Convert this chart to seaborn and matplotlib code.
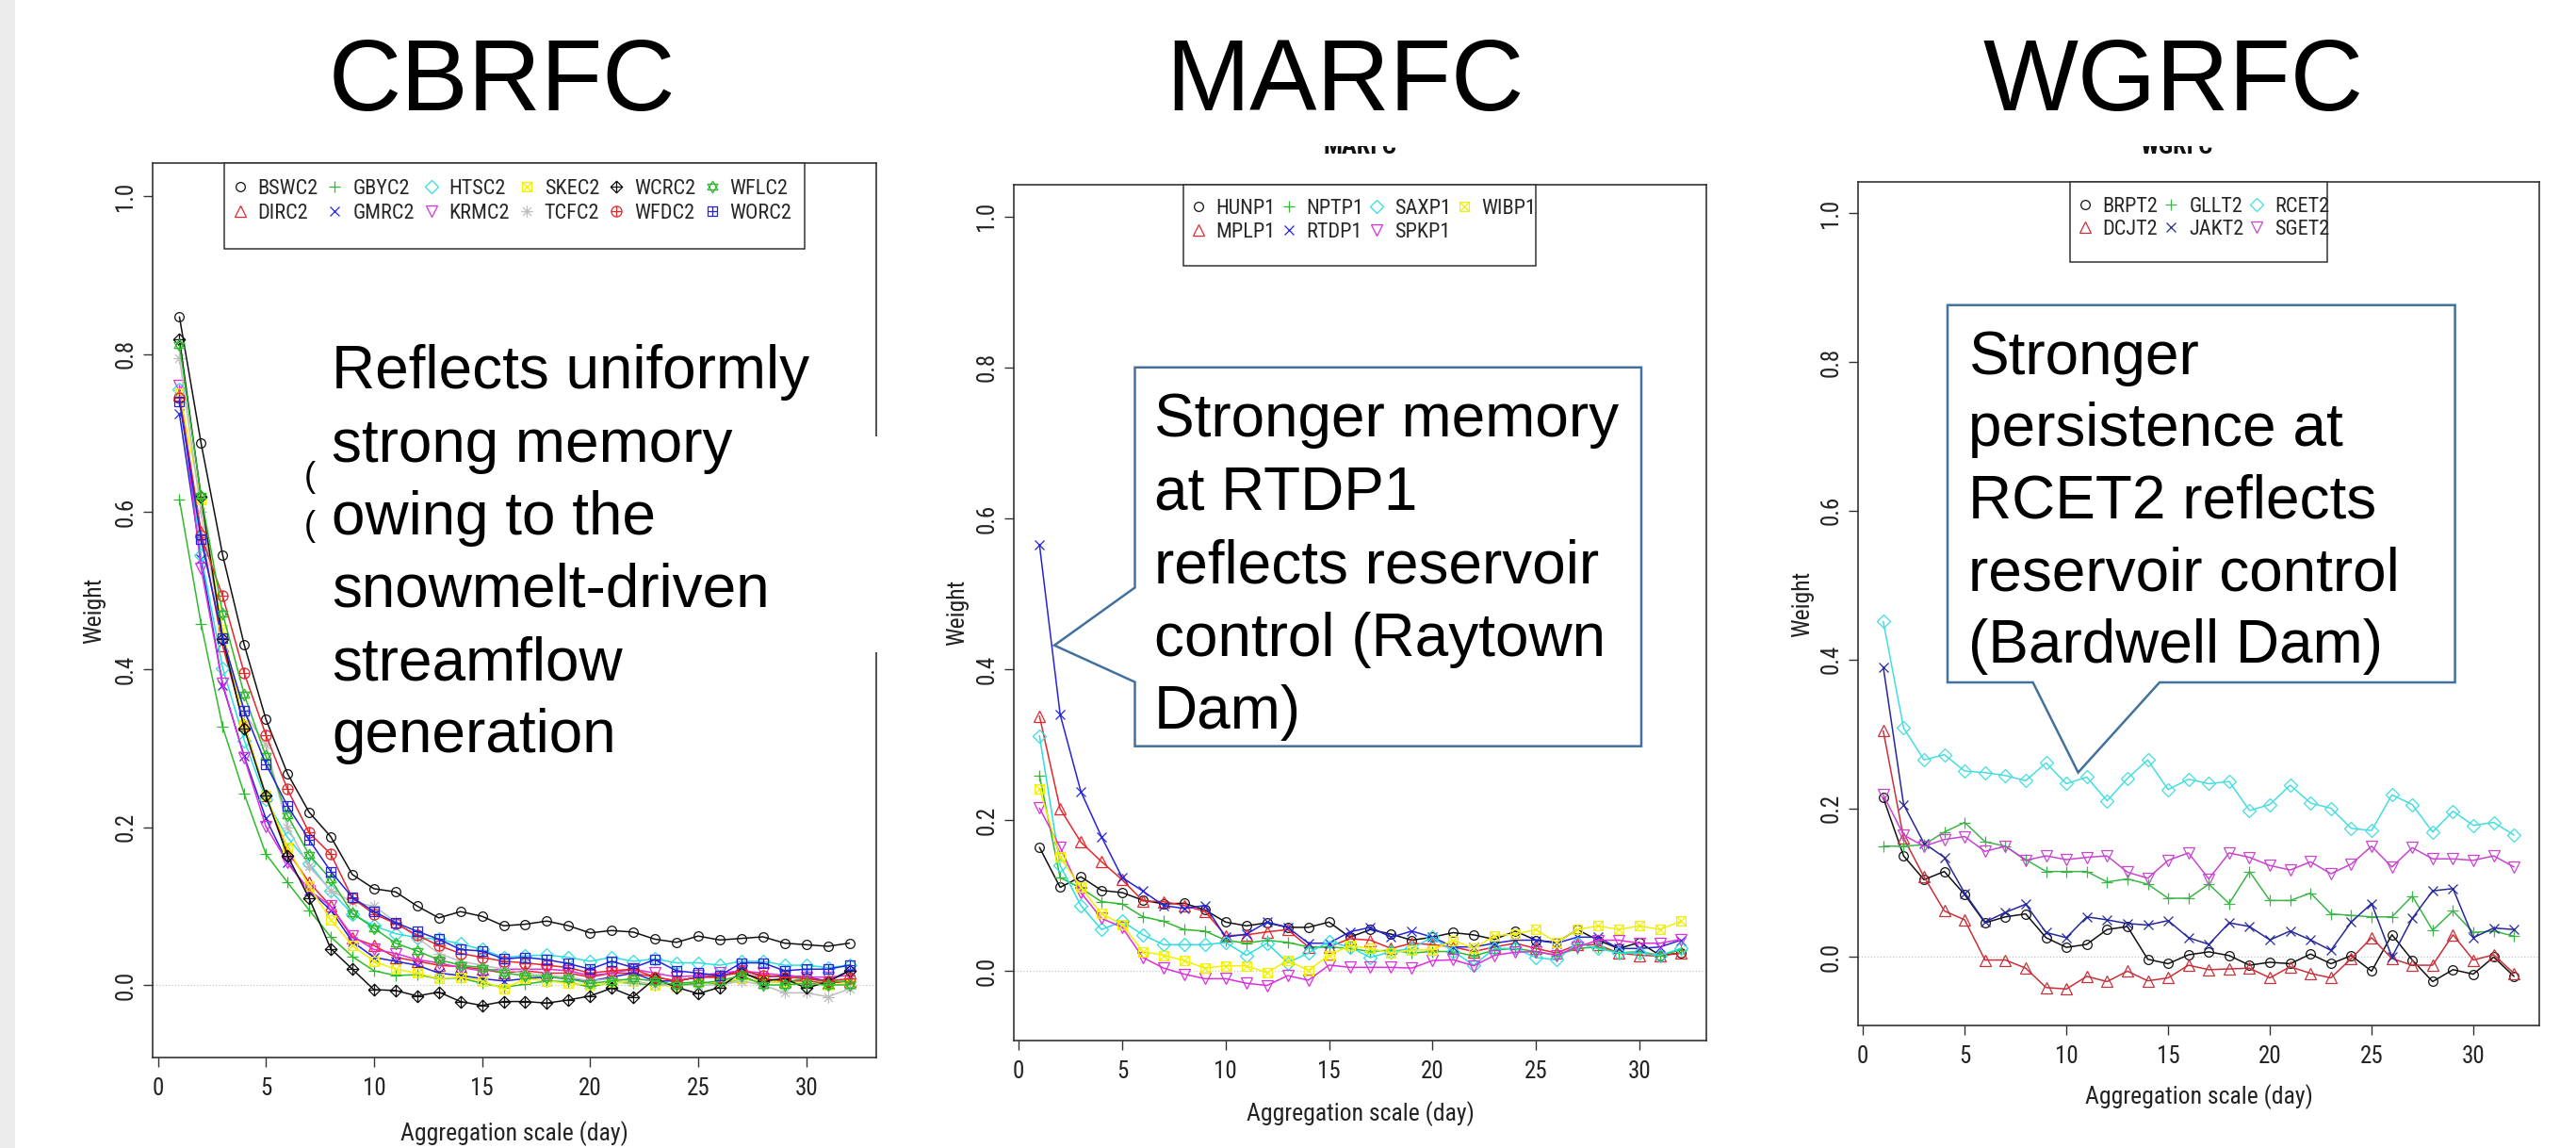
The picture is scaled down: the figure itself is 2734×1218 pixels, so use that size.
import matplotlib
matplotlib.use("Agg")
import matplotlib.pyplot as plt
import seaborn as sns
import numpy as np
from matplotlib.path import Path
from matplotlib.lines import Line2D
from matplotlib.patches import Rectangle, Polygon
from matplotlib import font_manager

# ---------------- data ----------------
scale = list(range(1, 33))

cb_names = ["BSWC2", "DIRC2", "GBYC2", "GMRC2", "HTSC2", "KRMC2",
            "SKEC2", "TCFC2", "WCRC2", "WFDC2", "WFLC2", "WORC2"]
bswc2 = [0.847, 0.687, 0.545, 0.431, 0.337, 0.268, 0.219, 0.188, 0.140, 0.122, 0.118, 0.100, 0.085, 0.093, 0.087, 0.075,
         0.077, 0.081, 0.075, 0.066, 0.069, 0.067, 0.058, 0.054, 0.062, 0.057, 0.059, 0.061, 0.053, 0.051, 0.049, 0.053]
dirc2 = [0.748, 0.575, 0.430, 0.330, 0.240, 0.170, 0.130, 0.100, 0.060, 0.050, 0.035, 0.030, 0.025, 0.023, 0.020, 0.015,
         0.018, 0.015, 0.015, 0.010, 0.015, 0.015, 0.010, 0.005, 0.010, 0.012, 0.015, 0.008, 0.005, 0.005, 0.002, 0.005]
gbyc2 = [0.615, 0.458, 0.327, 0.242, 0.166, 0.130, 0.095, 0.061, 0.036, 0.018, 0.012, 0.013, 0.008, 0.009, 0.002, -0.003,
         0.001, 0.005, 0.004, -0.003, 0.004, 0.002, 0.000, 0.002, 0.004, 0.001, 0.008, 0.004, 0.004, 0.008, 0.004, 0.005]
gmrc2 = [0.724, 0.540, 0.380, 0.290, 0.211, 0.155, 0.120, 0.095, 0.055, 0.035, 0.030, 0.025, 0.015, 0.012, 0.008, 0.005,
         0.008, 0.010, 0.008, 0.005, 0.010, 0.015, 0.005, 0.005, 0.010, 0.010, 0.020, 0.010, 0.012, 0.010, 0.005, 0.018]
htsc2 = [0.755, 0.545, 0.402, 0.310, 0.235, 0.187, 0.154, 0.119, 0.090, 0.075, 0.065, 0.060, 0.058, 0.052, 0.045, 0.035,
         0.037, 0.038, 0.035, 0.030, 0.035, 0.030, 0.033, 0.028, 0.028, 0.025, 0.030, 0.030, 0.025, 0.025, 0.022, 0.025]
krmc2 = [0.760, 0.528, 0.382, 0.288, 0.201, 0.155, 0.120, 0.100, 0.062, 0.045, 0.040, 0.032, 0.028, 0.022, 0.018, 0.020,
         0.020, 0.020, 0.018, 0.012, 0.015, 0.020, 0.015, 0.010, 0.012, 0.015, 0.018, 0.015, 0.012, 0.010, 0.010, 0.012]
skec2 = [0.750, 0.615, 0.450, 0.330, 0.240, 0.175, 0.125, 0.083, 0.050, 0.030, 0.020, 0.015, 0.008, 0.010, 0.005, -0.005,
         0.008, 0.005, 0.002, 0.000, 0.002, 0.005, 0.000, -0.002, 0.003, 0.003, 0.008, 0.005, 0.003, 0.002, 0.000, 0.002]
tcfc2 = [0.795, 0.600, 0.440, 0.345, 0.305, 0.200, 0.150, 0.120, 0.105, 0.100, 0.080, 0.060, 0.040, 0.030, 0.025, 0.020,
         0.015, 0.012, 0.010, 0.005, 0.008, 0.005, 0.000, 0.000, 0.000, 0.000, 0.005, 0.000, -0.010, -0.010, -0.015, -0.005]
wcrc2 = [0.819, 0.619, 0.439, 0.325, 0.240, 0.164, 0.110, 0.046, 0.020, -0.006, -0.007, -0.014, -0.009, -0.021, -0.026, -0.021,
         -0.021, -0.023, -0.019, -0.014, -0.004, -0.015, 0.008, -0.003, -0.011, -0.003, 0.016, 0.005, 0.008, -0.004, 0.004, 0.018]
wfdc2 = [0.745, 0.570, 0.493, 0.395, 0.317, 0.248, 0.193, 0.166, 0.110, 0.090, 0.078, 0.063, 0.050, 0.040, 0.035, 0.030,
         0.028, 0.025, 0.022, 0.015, 0.018, 0.020, 0.010, 0.005, 0.010, 0.010, 0.018, 0.012, 0.010, 0.008, 0.005, 0.008]
wflc2 = [0.811, 0.620, 0.471, 0.368, 0.290, 0.215, 0.165, 0.134, 0.091, 0.072, 0.053, 0.043, 0.032, 0.025, 0.022, 0.015,
         0.012, 0.010, 0.008, 0.002, 0.005, 0.008, 0.005, 0.000, 0.002, 0.005, 0.012, 0.000, 0.000, 0.002, 0.000, 0.000]
worc2 = [0.740, 0.565, 0.440, 0.348, 0.280, 0.227, 0.184, 0.144, 0.111, 0.093, 0.079, 0.068, 0.058, 0.045, 0.043, 0.033,
         0.035, 0.032, 0.027, 0.020, 0.030, 0.022, 0.032, 0.018, 0.015, 0.012, 0.028, 0.028, 0.018, 0.020, 0.020, 0.025]
cb_values = [bswc2, dirc2, gbyc2, gmrc2, htsc2, krmc2, skec2, tcfc2, wcrc2, wfdc2, wflc2, worc2]

ma_names = ["HUNP1", "MPLP1", "NPTP1", "RTDP1", "SAXP1", "SPKP1", "WIBP1"]
hunp1 = [0.164, 0.111, 0.125, 0.107, 0.104, 0.094, 0.089, 0.090, 0.081, 0.065, 0.060, 0.064, 0.058, 0.058, 0.065, 0.045,
         0.055, 0.049, 0.041, 0.045, 0.051, 0.048, 0.042, 0.053, 0.041, 0.038, 0.055, 0.041, 0.030, 0.038, 0.021, 0.024]
mplp1 = [0.338, 0.215, 0.171, 0.145, 0.121, 0.093, 0.092, 0.087, 0.079, 0.047, 0.048, 0.052, 0.055, 0.032, 0.032, 0.043,
         0.041, 0.030, 0.037, 0.035, 0.032, 0.026, 0.032, 0.037, 0.030, 0.024, 0.035, 0.035, 0.024, 0.021, 0.020, 0.024]
nptp1 = [0.259, 0.124, 0.110, 0.092, 0.089, 0.072, 0.066, 0.055, 0.053, 0.041, 0.037, 0.041, 0.038, 0.032, 0.032, 0.030,
         0.026, 0.028, 0.024, 0.026, 0.026, 0.020, 0.028, 0.030, 0.026, 0.021, 0.030, 0.032, 0.024, 0.026, 0.021, 0.028]
rtdp1 = [0.565, 0.340, 0.238, 0.178, 0.124, 0.106, 0.087, 0.083, 0.087, 0.045, 0.049, 0.065, 0.058, 0.037, 0.037, 0.052,
         0.058, 0.045, 0.053, 0.045, 0.032, 0.032, 0.037, 0.041, 0.041, 0.037, 0.045, 0.045, 0.030, 0.030, 0.032, 0.041]
saxp1 = [0.312, 0.140, 0.087, 0.055, 0.066, 0.048, 0.035, 0.035, 0.035, 0.038, 0.021, 0.037, 0.011, 0.024, 0.039, 0.032,
         0.018, 0.026, 0.030, 0.045, 0.026, 0.008, 0.030, 0.030, 0.018, 0.015, 0.037, 0.030, 0.024, 0.024, 0.021, 0.030]
spkp1 = [0.216, 0.164, 0.104, 0.070, 0.058, 0.018, 0.004, -0.004, -0.010, -0.010, -0.016, -0.019, -0.006, -0.012, 0.008, 0.005,
         0.005, 0.005, 0.004, 0.014, 0.015, 0.007, 0.021, 0.025, 0.026, 0.021, 0.032, 0.041, 0.041, 0.037, 0.037, 0.042]
wibp1 = [0.242, 0.151, 0.111, 0.076, 0.062, 0.026, 0.021, 0.014, 0.004, 0.007, 0.007, -0.002, 0.014, 0.001, 0.021, 0.034,
         0.030, 0.024, 0.028, 0.028, 0.041, 0.030, 0.047, 0.049, 0.055, 0.038, 0.055, 0.060, 0.055, 0.060, 0.055, 0.066]
ma_values = [hunp1, mplp1, nptp1, rtdp1, saxp1, spkp1, wibp1]

wg_names = ["BRPT2", "DCJT2", "GLLT2", "JAKT2", "RCET2", "SGET2"]
brpt2 = [0.214, 0.136, 0.104, 0.115, 0.084, 0.046, 0.054, 0.058, 0.026, 0.013, 0.017, 0.037, 0.041, -0.003, -0.009, 0.003,
         0.007, 0.002, -0.011, -0.007, -0.009, 0.004, -0.009, 0.002, -0.019, 0.030, -0.004, -0.033, -0.017, -0.023, 0.000, -0.026]
dcjt2 = [0.304, 0.160, 0.108, 0.062, 0.050, -0.004, -0.004, -0.015, -0.041, -0.043, -0.026, -0.033, -0.019, -0.032, -0.028, -0.011,
         -0.017, -0.016, -0.015, -0.028, -0.013, -0.022, -0.028, -0.002, 0.026, -0.002, -0.011, -0.011, 0.030, -0.004, 0.003, -0.022]
gllt2 = [0.149, 0.149, 0.151, 0.168, 0.181, 0.155, 0.149, 0.131, 0.115, 0.115, 0.115, 0.101, 0.105, 0.098, 0.079, 0.079,
         0.098, 0.072, 0.115, 0.076, 0.076, 0.086, 0.058, 0.056, 0.054, 0.054, 0.082, 0.036, 0.062, 0.033, 0.035, 0.028]
jakt2 = [0.390, 0.205, 0.153, 0.134, 0.086, 0.047, 0.060, 0.071, 0.033, 0.026, 0.054, 0.050, 0.045, 0.043, 0.049, 0.026,
         0.017, 0.046, 0.041, 0.023, 0.035, 0.023, 0.009, 0.047, 0.072, 0.000, 0.052, 0.089, 0.092, 0.026, 0.039, 0.037]
rcet2 = [0.451, 0.308, 0.265, 0.272, 0.250, 0.248, 0.244, 0.237, 0.261, 0.233, 0.242, 0.210, 0.240, 0.265, 0.225, 0.239,
         0.233, 0.236, 0.197, 0.205, 0.231, 0.207, 0.200, 0.173, 0.170, 0.218, 0.205, 0.168, 0.196, 0.177, 0.181, 0.164]
sget2 = [0.218, 0.164, 0.149, 0.158, 0.162, 0.142, 0.149, 0.130, 0.136, 0.131, 0.134, 0.136, 0.114, 0.106, 0.130, 0.140,
         0.105, 0.140, 0.134, 0.123, 0.117, 0.128, 0.112, 0.125, 0.149, 0.121, 0.147, 0.132, 0.132, 0.130, 0.136, 0.121]
wg_values = [brpt2, dcjt2, gllt2, jakt2, rcet2, sget2]

titles = ["CBRFC", "MARFC", "WGRFC"]
notes = [
    ["Reflects uniformly", "strong memory", "owing to the", "snowmelt-driven", "streamflow", "generation"],
    ["Stronger memory", "at RTDP1", "reflects reservoir", "control (Raytown", "Dam)"],
    ["Stronger", "persistence at", "RCET2 reflects", "reservoir control", "(Bardwell Dam)"],
]

# ---------------- styling ----------------
W, H, DPI = 2734, 1218, 100
sns.set_style("white")
avail = {f.name for f in font_manager.fontManager.ttflist}
narrow = next((n for n in ["Liberation Sans Narrow", "DejaVu Sans Condensed", "Roboto Condensed"]
               if n in avail), "Liberation Sans")
plt.rcParams["font.family"] = [narrow, "DejaVu Sans"]
SLIDE_FONT = ["Liberation Sans", "DejaVu Sans"]


def fx(x):
    return x / W


def fy(y):
    return 1 - y / H


def seg(a, b):
    return Path([a, b], [Path.MOVETO, Path.LINETO])


def poly(pts):
    return Path(pts + [pts[0]], [Path.MOVETO] + [Path.LINETO] * (len(pts) - 1) + [Path.CLOSEPOLY])


square = poly([(-1, -1), (1, -1), (1, 1), (-1, 1)])
xcross = [seg((-1, -1), (1, 1)), seg((-1, 1), (1, -1))]
pcross = [seg((-1, 0), (1, 0)), seg((0, -1), (0, 1))]
pch7 = Path.make_compound_path(square, *xcross)
pch8 = Path.make_compound_path(seg((-1, 0), (1, 0)), seg((0, -1), (0, 1)),
                               seg((-.72, -.72), (.72, .72)), seg((-.72, .72), (.72, -.72)))
pch9 = Path.make_compound_path(poly([(0, -1), (1, 0), (0, 1), (-1, 0)]), *pcross)
pch10 = Path.make_compound_path(Path.circle((0, 0), 1), *pcross)
pch11 = Path.make_compound_path(poly([(0, 1), (-.87, -.5), (.87, -.5)]),
                                poly([(0, -1), (-.87, .5), (.87, .5)]))
pch12 = Path.make_compound_path(square, *pcross)

markers = ["o", "^", "+", "x", "D", "v", pch7, pch8, pch9, pch10, pch11, pch12]
msizes = [7, 8, 9, 7, 7, 8, 7, 9, 9, 8, 9, 7]
pal_a = ["#111111", "#E8262B", "#2DBB2D", "#2424D8", "#2EDDE0", "#DD2EDD", "#F2F000", "#BDBDBD"]
pal_b = ["#111111", "#C8303A", "#3DB54A", "#26289A", "#45DDE0", "#C845D0"]

panels = [
    dict(names=cb_names, values=cb_values, pal=pal_a, box=(162, 173, 930, 1122),
         leg_box=(238, 173, 854, 264), sym=254.5, rows=(203, 233), ncol=6, cs=0.3),
    dict(names=ma_names, values=ma_values, pal=pal_a, box=(1076, 196, 1811, 1104),
         leg_box=(1256, 196, 1630, 281.5), sym=1271.8, rows=(223.6, 253.5), ncol=4, cs=0.12),
    dict(names=wg_names, values=wg_values, pal=pal_b, box=(1972, 193, 2695, 1088),
         leg_box=(2197, 193, 2470, 278), sym=2212.7, rows=(221.7, 250), ncol=3, cs=0.12),
]

fig = plt.figure(figsize=(W / DPI, H / DPI), dpi=DPI)
fig.add_artist(Rectangle((0, 0), fx(16), 1, transform=fig.transFigure,
                         facecolor="#EBEBEB", edgecolor="none", zorder=0.2))

LEG_FS = 16
for p in panels:
    x0, y0, x1, y1 = p["box"]
    ax = fig.add_axes([fx(x0), fy(y1), (x1 - x0) / W, (y1 - y0) / H])
    ax.axhline(0, color="#BBBBBB", ls=(0, (1, 2)), lw=0.8, zorder=0.5)
    handles = []
    for i, (name, vals) in enumerate(zip(p["names"], p["values"])):
        c = p["pal"][i % len(p["pal"])]
        m, ms = markers[i], msizes[i]
        sns.lineplot(x=scale, y=vals, ax=ax, color=c, marker=m, markersize=ms,
                     markeredgecolor=c, markerfacecolor="none", markeredgewidth=0.9,
                     linewidth=1.1, errorbar=None, legend=False)
        handles.append(Line2D([], [], ls="none", marker=m, markersize=ms, markeredgecolor=c,
                              markerfacecolor="none", markeredgewidth=0.9))
    ax.set_xlim(-0.24, 33.24)
    ax.set_ylim(-0.092, 1.042)
    ax.set_xticks([0, 5, 10, 15, 20, 25, 30])
    ax.set_yticks([0.0, 0.2, 0.4, 0.6, 0.8, 1.0])
    ax.set_yticklabels([f"{v:.1f}" for v in [0.0, 0.2, 0.4, 0.6, 0.8, 1.0]])
    ax.tick_params(axis="both", which="major", direction="out", length=7, width=1.0,
                   color="#333333", labelsize=18, labelcolor="#222222", bottom=True, left=True)
    ax.tick_params(axis="x", pad=8)
    ax.tick_params(axis="y", pad=5, labelrotation=90)
    for lab in ax.get_yticklabels():
        lab.set_va("center")
    for s in ax.spines.values():
        s.set_color("#333333")
        s.set_linewidth(1.2)
    ax.set_xlabel("Aggregation scale (day)", fontsize=18.5, color="#222222", va="center")
    ax.set_ylabel("Weight", fontsize=18.5, color="#222222", va="center")
    ax.xaxis.set_label_coords(0.5, -0.085)
    ax.yaxis.set_label_coords(-0.081, 0.5)

    # legend in its own box
    lx0, ly0, lx1, ly1 = p["leg_box"]
    fig.add_artist(Rectangle((fx(lx0), fy(ly1)), (lx1 - lx0) / W, (ly1 - ly0) / H,
                             transform=fig.transFigure, facecolor="white",
                             edgecolor="#333333", lw=1.1, zorder=4))
    fpx = LEG_FS * DPI / 72
    rowh = 1.15 * fpx
    ls = ((p["rows"][1] - p["rows"][0]) - rowh) / fpx
    leg = fig.legend(handles, p["names"], ncol=p["ncol"], loc="upper left",
                     bbox_to_anchor=(fx(p["sym"] - 0.5 * fpx), fy(p["rows"][0] - rowh / 2)),
                     bbox_transform=fig.transFigure, frameon=False, borderpad=0,
                     borderaxespad=0, handlelength=1.0, handletextpad=0.35,
                     columnspacing=p["cs"], labelspacing=ls, fontsize=LEG_FS)
    leg.set_zorder(5)

# R main titles peeking out under the slide titles (mostly hidden)
for t, cx in [("MARFC", 1443), ("WGRFC", 2310)]:
    fig.text(fx(cx), fy(163), t, ha="center", va="baseline", fontsize=19,
             fontweight="bold", color="#111111", zorder=1.5)
fig.add_artist(Rectangle((fx(1000), fy(155)), fx(1700), 155 / H, transform=fig.transFigure,
                         facecolor="white", edgecolor="none", zorder=2))

# slide titles
for t, cx in zip(titles, [533, 1427, 2307]):
    fig.text(fx(cx), fy(117), t, ha="center", va="baseline", fontsize=77,
             family=SLIDE_FONT, color="black", zorder=3)

# panel 1: white cover box with leftover bracket fragments
for yy in [507, 558]:
    fig.text(fx(323), fy(yy), "(", ha="left", va="center", fontsize=26,
             family=SLIDE_FONT, color="black", zorder=3.5)
fig.add_artist(Rectangle((fx(335), fy(692)), (950 - 335) / W, (692 - 463) / H,
                         transform=fig.transFigure, facecolor="white", edgecolor="none", zorder=4))

# callouts
edge = "#41719C"
call2 = [(1204.5, 389.8), (1742, 389.8), (1742, 791.7), (1204.5, 791.7), (1204.5, 723.6),
         (1119, 684.7), (1204.5, 623.4)]
call3 = [(2067, 323.7), (2605.6, 323.7), (2605.6, 724), (2292, 724), (2205.6, 819.6),
         (2157.6, 724), (2067, 724)]
for pts in [call2, call3]:
    fig.add_artist(Polygon([(fx(a), fy(b)) for a, b in pts], closed=True,
                           transform=fig.transFigure, facecolor="white", edgecolor=edge,
                           lw=1.8, zorder=5))

for lines, (lx, base, step) in zip(notes, [(352, 412.4, 77.2), (1225, 463.4, 77.5), (2089, 396.7, 76.6)]):
    for k, line in enumerate(lines):
        fig.text(fx(lx), fy(base + k * step), line, ha="left", va="baseline", fontsize=46,
                 family=SLIDE_FONT, color="black", zorder=6)

fig.savefig("out.png", dpi=DPI, facecolor="white")
